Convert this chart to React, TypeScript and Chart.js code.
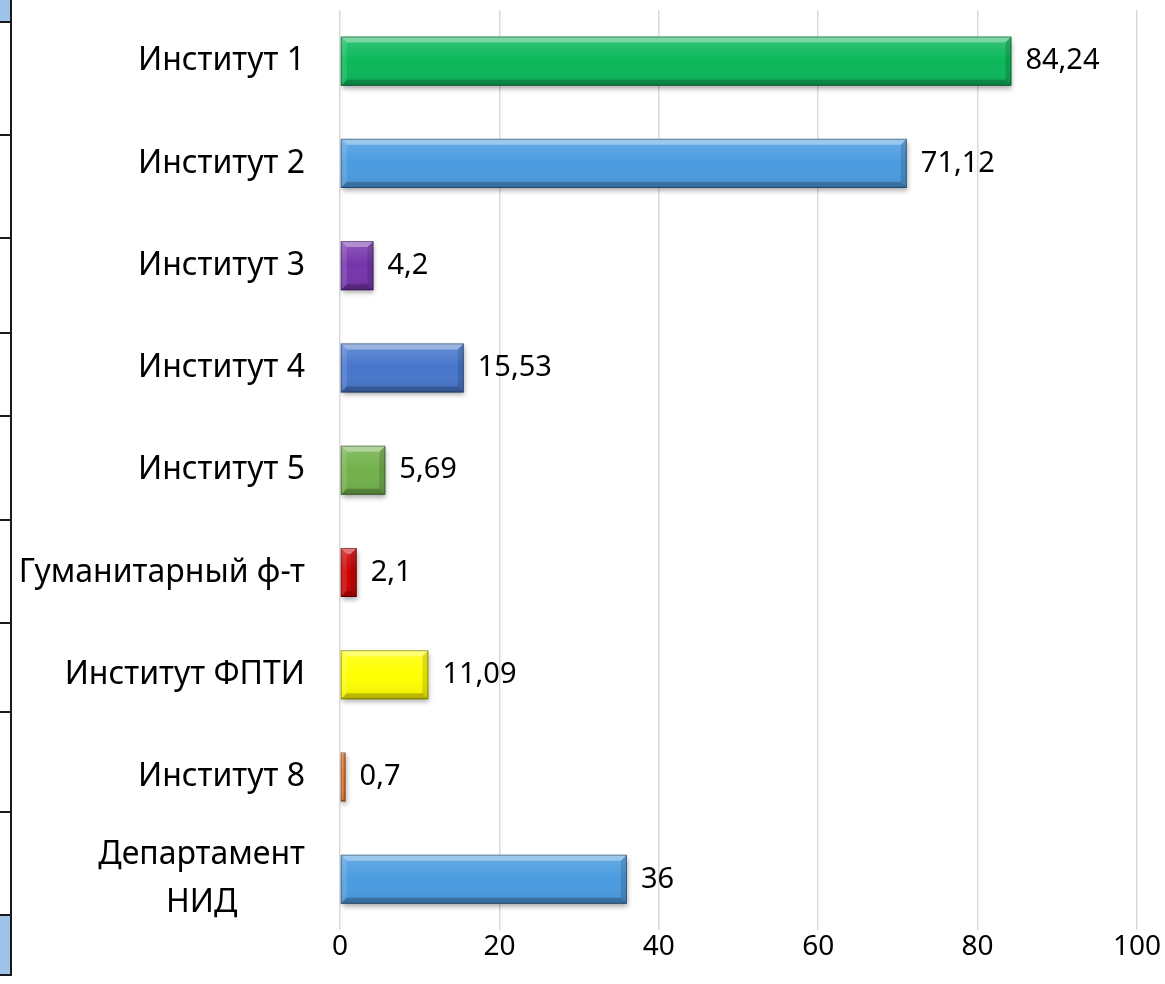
import React, { useEffect, useRef } from "react";
import { Chart, registerables } from "chart.js";

Chart.register(...registerables);

const categories: (string | string[])[] = [
  "Институт 1",
  "Институт 2",
  "Институт 3",
  "Институт 4",
  "Институт 5",
  "Гуманитарный ф-т",
  "Институт ФПТИ",
  "Институт 8",
  ["Департамент", "НИД"],
];
const values = [84.24, 71.12, 4.2, 15.53, 5.69, 2.1, 11.09, 0.7, 36];
const barColors = [
  "#0BB85A",
  "#4A9BE0",
  "#7634AC",
  "#4776CC",
  "#72B14A",
  "#CC0000",
  "#FFFF00",
  "#ED7D31",
  "#4A9BE0",
];
const xTicks = [0, 20, 40, 60, 80, 100];

const FONT_FAMILY = "'Noto Sans', sans-serif";
const LABEL_SIZE = 32;
const NUM_SIZE = 28;

const tableLinesY = [22, 135, 238, 333, 416, 520, 623, 712, 812, 915, 975];

const bevelPlugin = {
  id: "bevel",
  beforeDatasetsDraw(chart: any) {
    const ctx = chart.ctx;
    ctx.save();
    ctx.shadowColor = "rgba(0,0,0,0.35)";
    ctx.shadowBlur = 5;
    ctx.shadowOffsetX = 1;
    ctx.shadowOffsetY = 3;
  },
  afterDatasetsDraw(chart: any) {
    const ctx = chart.ctx;
    ctx.restore();
    const meta = chart.getDatasetMeta(0);
    meta.data.forEach((el: any) => {
      const p = el.getProps(["x", "y", "base", "height"], true);
      const l = Math.min(p.base, p.x);
      const r = Math.max(p.base, p.x);
      const t = p.y - p.height / 2;
      const btm = p.y + p.height / 2;
      const w = r - l;
      const b = Math.min(6, w / 2, p.height / 2);
      ctx.save();
      const g = ctx.createLinearGradient(0, t, 0, btm);
      g.addColorStop(0, "rgba(255,255,255,0.18)");
      g.addColorStop(0.5, "rgba(255,255,255,0)");
      g.addColorStop(1, "rgba(0,0,0,0.10)");
      ctx.fillStyle = g;
      ctx.fillRect(l, t, w, p.height);
      const poly = (pts: number[][], fill: string) => {
        ctx.beginPath();
        ctx.moveTo(pts[0][0], pts[0][1]);
        for (let i = 1; i < pts.length; i++) ctx.lineTo(pts[i][0], pts[i][1]);
        ctx.closePath();
        ctx.fillStyle = fill;
        ctx.fill();
      };
      poly([[l, t], [r, t], [r - b, t + b], [l + b, t + b]], "rgba(255,255,255,0.35)");
      poly([[l, btm], [r, btm], [r - b, btm - b], [l + b, btm - b]], "rgba(0,0,0,0.22)");
      poly([[l, t], [l + b, t + b], [l + b, btm - b], [l, btm]], "rgba(255,255,255,0.12)");
      poly([[r, t], [r - b, t + b], [r - b, btm - b], [r, btm]], "rgba(0,0,0,0.14)");
      ctx.strokeStyle = "rgba(0,0,0,0.35)";
      ctx.lineWidth = 1;
      ctx.strokeRect(l + 0.5, t + 0.5, w - 1, p.height - 1);
      ctx.restore();
    });
  },
  afterDraw(chart: any) {
    const ctx = chart.ctx;
    const yScale = chart.scales.y;
    const area = chart.chartArea;
    ctx.save();
    ctx.font = `${LABEL_SIZE}px ${FONT_FAMILY}`;
    ctx.fillStyle = "#000";
    ctx.textBaseline = "middle";
    const labelRight = area.left - 35;
    const lineH = 48;
    categories.forEach((lab, i) => {
      const y = yScale.getPixelForValue(i);
      if (Array.isArray(lab)) {
        const maxW = Math.max(...lab.map((s) => ctx.measureText(s).width));
        const cx = labelRight - maxW / 2;
        ctx.textAlign = "center";
        lab.forEach((s, k) => {
          ctx.fillText(s, cx, y + (k - (lab.length - 1) / 2) * lineH);
        });
      } else {
        ctx.textAlign = "right";
        ctx.fillText(lab, labelRight, y);
      }
    });
    // data labels
    ctx.font = `${NUM_SIZE + 1}px ${FONT_FAMILY}`;
    const meta = chart.getDatasetMeta(0);
    ctx.textAlign = "left";
    meta.data.forEach((el: any, i: number) => {
      const p = el.getProps(["x", "y"], true);
      ctx.fillText(String(values[i]).replace(".", ","), p.x + 14, p.y);
    });
    ctx.restore();
  },
};

export default function App() {
  const canvasRef = useRef<HTMLCanvasElement | null>(null);

  useEffect(() => {
    if (!canvasRef.current) return;
    const chart = new Chart(canvasRef.current, {
      type: "bar",
      data: {
        labels: categories as any,
        datasets: [
          {
            data: values,
            backgroundColor: barColors,
            borderWidth: 0,
            barPercentage: 0.48,
            categoryPercentage: 1,
          },
        ],
      },
      options: {
        indexAxis: "y",
        animation: false,
        responsive: true,
        maintainAspectRatio: false,
        layout: { padding: { top: 10, right: 28, bottom: 20, left: 0 } },
        plugins: {
          legend: { display: false },
          tooltip: { enabled: false },
        },
        scales: {
          x: {
            min: 0,
            max: 100,
            afterBuildTicks: (scale: any) => {
              scale.ticks = xTicks.map((v) => ({ value: v }));
            },
            grid: { color: "#D9D9D9", lineWidth: 1.5, drawTicks: false },
            border: { display: false },
            ticks: {
              color: "#000",
              padding: 0,
              font: { family: FONT_FAMILY, size: NUM_SIZE },
            },
          },
          y: {
            grid: { display: false },
            border: { display: false },
            ticks: { display: false },
            afterFit: (scale: any) => {
              scale.width = 340;
            },
          },
        },
      },
      plugins: [bevelPlugin],
    });
    return () => chart.destroy();
  }, []);

  return (
    <div style={{ position: "absolute", left: 0, top: 0, width: 1165, height: 984, background: "#fff" }}>
      <canvas ref={canvasRef} style={{ position: "absolute", left: 0, top: 0 }} />
      <div style={{ position: "absolute", left: 0, top: 0, width: 10, height: 22, background: "#9DC3E6" }} />
      <div style={{ position: "absolute", left: 0, top: 915, width: 10, height: 60, background: "#9DC3E6" }} />
      {tableLinesY.map((y) => (
        <div key={y} style={{ position: "absolute", left: 0, top: y - 1, width: 12, height: 2, background: "#1A1A1A" }} />
      ))}
      <div style={{ position: "absolute", left: 10, top: 0, width: 2, height: 976, background: "#1A1A1A" }} />
    </div>
  );
}
